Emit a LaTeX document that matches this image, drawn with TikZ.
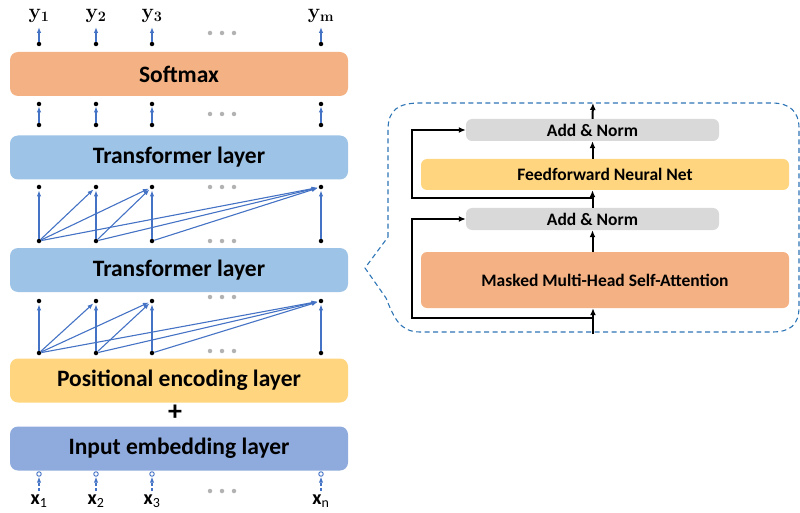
\documentclass[tikz,border=0pt]{standalone}
\usepackage[no-math]{fontspec}
\setmainfont{Carlito}
\usepackage{amsmath}
\usetikzlibrary{arrows.meta}
\definecolor{softmaxc}{HTML}{F4B183}
\definecolor{transc}{HTML}{9DC3E6}
\definecolor{posc}{HTML}{FFD67F}
\definecolor{embc}{HTML}{8FAADC}
\definecolor{normc}{HTML}{D9D9D9}
\definecolor{linkc}{HTML}{4472C4}
\definecolor{callc}{HTML}{2E75B6}
\tikzset{
  layer/.style={rectangle,rounded corners=8pt,minimum width=338pt,minimum height=44pt,
    inner sep=0pt,font=\fontsize{23.5}{28}\selectfont\bfseries},
  sublayer/.style={rectangle,rounded corners=6pt,inner sep=0pt,
    font=\fontsize{17.5}{21}\selectfont\bfseries},
  dot/.style={circle,fill=black,inner sep=0pt,minimum size=4.5pt},
  odot/.style={circle,draw=linkc,line width=0.9pt,fill=white,inner sep=0pt,minimum size=4.5pt},
  gdot/.style={circle,fill=black!30,inner sep=0pt,minimum size=4.5pt},
  link/.style={draw=linkc,line width=1.1pt,-{Latex[length=6pt,width=4.5pt]}},
  blk/.style={draw=black,line width=2pt},
  blkarrow/.style={blk,-{Latex[length=7pt,width=6pt]}},
  lbl/.style={font=\fontsize{20}{24}\selectfont}
}
\begin{document}
\begin{tikzpicture}[x=1pt,y=-1pt]
\useasboundingbox (0,0) rectangle (800,513);

% layers of the decoder stack
\node[layer,fill=softmaxc] (softmax) at (179,74) {Softmax};
\node[layer,fill=transc] (trans1) at (179,157.5) {Transformer layer};
\node[layer,fill=transc] (trans2) at (179,270) {Transformer layer};
\node[layer,fill=posc] (pos) at (179,380.5) {Positional encoding layer};
\node[layer,fill=embc] (emb) at (179,448.5) {Input embedding layer};
\node[font=\fontsize{28}{28}\selectfont\bfseries] (plus) at (175,413) {+};

% columns
\foreach \i/\x/\s in {1/39/1,2/96/2,3/152/3,m/321/n}{
  \node[dot] (out\i) at (\x,44) {};
  \node[dot] (sa\i) at (\x,104) {};
  \node[dot] (sb\i) at (\x,125) {};
  \node[dot] (ta\i) at (\x,187) {};
  \node[dot] (tb\i) at (\x,241) {};
  \node[dot] (pa\i) at (\x,301) {};
  \node[dot] (pb\i) at (\x,353) {};
  \node[odot] (in\i) at (\x,474) {};
  \coordinate (x\i) at (\x,491);
  \node[lbl] (ylab\i) at (\x,16) {$\mathbf{y}_{\mathbf{\i}}$};
  \node[lbl,font=\fontsize{20}{24}\selectfont\bfseries] (xlab\i) at (\x,501) {x\textsubscript{\mdseries\s}};
  \coordinate (yt\i) at (\x,27);
  \draw[link] (out\i) -- (yt\i);
  \draw[link] (sb\i) -- (sa\i);
  \draw[link,dash pattern=on 3pt off 2pt] (x\i) -- (in\i);
}

% attention links
\foreach \i/\j in {1/1,1/2,1/3,1/m,2/2,2/3,2/m,3/3,3/m,m/m}{
  \draw[link,shorten >=1pt] (tb\i) -- (ta\j);
  \draw[link,shorten >=1pt] (pb\i) -- (pa\j);
}

% ellipses
\foreach \y in {33,114,187,241,297,351,491}{
  \foreach \x in {210,222,234}
    \node[gdot] at (\x,\y) {};
}

% zoomed transformer layer
\draw[callc,line width=1.1pt,dash pattern=on 5pt off 3.5pt]
  (388,237) -- (388,130) .. controls (388,110) and (398,103) .. (420,103)
  -- (772,103) .. controls (790,103) and (799,112) .. (799,128)
  -- (799,307) .. controls (799,325) and (790,332) .. (772,332)
  -- (420,332) .. controls (400,332) and (394,318) .. (386,298)
  -- (365,268) -- cycle;

\node[sublayer,fill=normc,minimum width=253pt,minimum height=22pt] (norm2) at (592.5,130) {Add \& Norm};
\node[sublayer,fill=posc,minimum width=368pt,minimum height=31pt] (ffn) at (605,174.5) {Feedforward Neural Net};
\node[sublayer,fill=normc,minimum width=253pt,minimum height=22pt] (norm1) at (592.5,219) {Add \& Norm};
\node[sublayer,fill=softmaxc,minimum width=368pt,minimum height=56pt] (mha) at (605,280) {Masked Multi-Head Self-Attention};

\coordinate (src) at (593,334);
\coordinate (res1) at (593,318);
\coordinate (res2) at (593,198);
\coordinate (top) at (593,103);
\coordinate (skip) at (412,0);

\draw[blkarrow] (src) -- (src |- mha.south);
\draw[blkarrow] (norm1.north) -- (norm1.north |- ffn.south);
\draw[blkarrow] (norm1.north |- mha.north) -- (norm1.south);
\draw[blkarrow] (norm2.north |- ffn.north) -- (norm2.south);
\draw[blkarrow] (norm2.north) -- (top);
\draw[blkarrow] (res1) -- (res1 -| skip) |- (norm1.west);
\draw[blkarrow] (res2) -- (res2 -| skip) |- (norm2.west);
\end{tikzpicture}
\end{document}
